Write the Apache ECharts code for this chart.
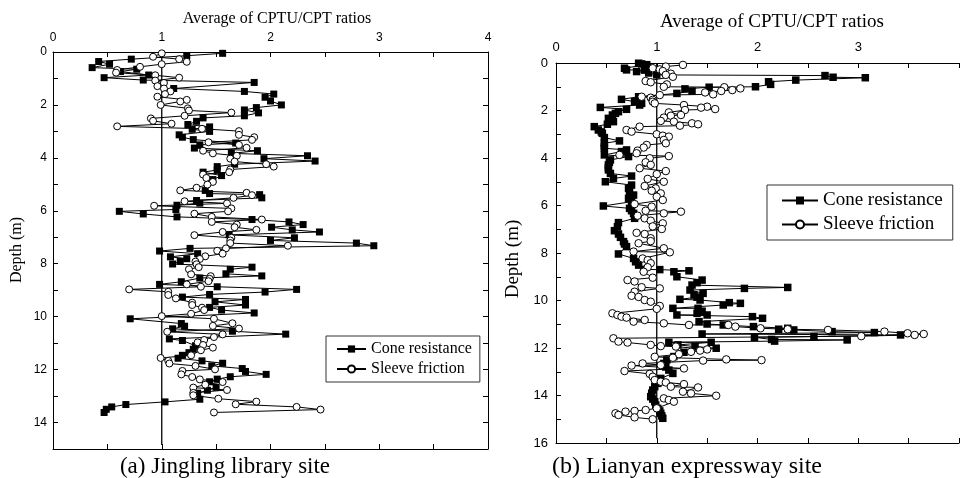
<!DOCTYPE html>
<html><head><meta charset="utf-8">
<script src="https://cdn.jsdelivr.net/npm/echarts@6/dist/echarts.min.js"></script>
<style>html,body{margin:0;padding:0;background:#fff}#c{width:962px;height:478px}</style>
</head><body><div id="c"></div><script>
// ---- Data: [ratio, depth (m)] ----
const jinglingCone = [[1.56,0.05],[1.23,0.14],[0.72,0.27],[0.42,0.36],[0.52,0.46],[0.36,0.59],[0.77,0.65],[0.62,0.74],[0.88,0.87],[0.47,0.97],[0.83,1.06],[1.85,1.15],[1.11,1.38],[1.76,1.49],[2.03,1.59],[1.95,1.71],[2.0,1.85],[2.1,2.0],[1.87,2.1],[1.76,2.19],[1.89,2.3],[1.76,2.41],[1.38,2.49],[1.32,2.62],[1.24,2.74],[1.44,2.83],[1.28,2.92],[1.44,3.0],[1.16,3.13],[1.19,3.22],[1.29,3.31],[1.68,3.44],[1.35,3.51],[1.30,3.63],[1.88,3.73],[1.64,3.83],[2.34,3.92],[1.94,4.03],[2.41,4.12],[1.67,4.24],[1.51,4.33],[1.51,4.46],[1.38,4.54],[1.55,4.67],[1.47,4.82],
[1.40,5.23],[1.44,5.35],[1.90,5.39],[1.92,5.51],[1.32,5.61],[1.35,5.71],[1.14,5.79],[1.13,5.95],[0.61,6.02],[0.83,6.12],[1.14,6.23],[1.83,6.33],[2.17,6.42],[2.30,6.52],[2.01,6.62],[2.20,6.72],[2.45,6.80],[1.62,6.91],[2.22,7.02],[2.00,7.12],[2.79,7.22],[2.95,7.32],[1.26,7.42],[0.98,7.52],[1.33,7.62],[1.08,7.74],[1.23,7.81],[1.17,7.91],[1.10,8.01],[1.83,8.13],[1.63,8.21],[1.59,8.38],[1.92,8.46],[1.35,8.54],[1.18,8.68],[0.98,8.78],[1.51,8.87],[2.24,8.97],[1.95,9.07],[1.44,9.16],[1.19,9.26],[1.77,9.35],[1.49,9.44],[1.77,9.56],[1.44,9.65],[1.55,9.75],[1.85,9.86],
[0.71,10.08],[1.18,10.26],[1.21,10.36],[1.10,10.46],[1.65,10.55],[2.14,10.66],[1.07,10.84],[1.19,10.9],[1.31,11.1],[1.29,11.23],[1.25,11.36],[1.19,11.46],[1.15,11.57],[1.37,11.67],[1.56,11.76],[1.46,11.86],[1.74,11.96],[1.77,12.07],[1.96,12.18],[1.63,12.27],[1.51,12.36],[1.44,12.46],[1.50,12.67],[1.42,12.78],[1.33,12.89],[1.35,13.12],[1.03,13.22],[0.67,13.32],[0.54,13.41],[0.49,13.5],[0.47,13.62]];

const jinglingSleeve = [[1.0,0.05],[0.92,0.18],[1.16,0.27],[1.23,0.37],[1.0,0.46],[0.80,0.56],[0.59,0.68],[0.58,0.78],[0.94,0.88],[1.16,0.97],[0.94,1.08],[1.02,1.17],[0.96,1.29],[1.02,1.38],[1.08,1.49],[1.03,1.59],[0.96,1.69],[1.23,1.81],[1.17,1.87],[0.99,2.0],[1.24,2.13],[1.25,2.21],[1.64,2.29],[1.21,2.41],[0.90,2.51],[0.92,2.6],[1.09,2.71],[0.59,2.81],[1.37,2.9],[1.71,2.99],[1.71,3.13],[1.85,3.22],[1.83,3.32],[1.43,3.41],[1.71,3.51],[1.78,3.62],[1.38,3.73],[1.47,3.83],[1.69,3.92],[1.63,4.03],[1.67,4.14],[1.96,4.24],[2.03,4.33],[1.63,4.44],[1.62,4.54],[1.38,4.63],[1.41,4.76],[1.47,4.91],[1.42,5.01],
[1.32,5.13],[1.17,5.23],[1.78,5.32],[1.83,5.41],[1.66,5.51],[1.21,5.64],[1.60,5.72],[0.93,5.81],[1.64,5.91],[1.61,6.02],[1.30,6.11],[1.46,6.23],[1.92,6.33],[1.46,6.42],[1.69,6.52],[1.67,6.62],[1.87,6.72],[1.56,6.80],[1.30,6.92],[1.64,7.02],[1.63,7.12],[1.63,7.22],[2.16,7.32],[1.59,7.42],[1.51,7.51],[1.56,7.62],[1.40,7.72],[1.35,7.82],[1.31,7.92],[1.32,8.02],[1.34,8.13],[1.25,8.21],[1.27,8.40],[1.45,8.47],[1.44,8.57],[1.43,8.66],[1.23,8.78],[1.36,8.87],[0.70,8.97],[1.06,9.06],[1.06,9.18],[1.13,9.31],[1.28,9.47],[1.28,9.56],[1.37,9.66],[1.39,9.75],
[1.27,9.89],[1.0,9.98],[1.48,10.08],[1.65,10.25],[1.47,10.35],[1.71,10.45],[1.05,10.57],[1.56,10.67],[1.48,10.77],[1.39,10.88],[1.33,10.97],[1.38,11.07],[1.47,11.17],[1.36,11.27],[1.27,11.46],[0.99,11.56],[1.06,11.67],[1.07,11.77],[1.31,11.86],[1.49,11.99],[1.19,12.05],[1.18,12.18],[1.28,12.28],[1.35,12.37],[1.56,12.47],[1.40,12.57],[1.29,12.68],[1.60,12.77],[1.29,12.88],[1.29,12.97],[1.52,13.10],[1.87,13.21],[1.68,13.31],[2.24,13.41],[2.46,13.51],[1.48,13.62]];

const lianyanCone = [[0.82,0.01],[0.85,0.04],[0.90,0.07],[0.91,0.15],[0.68,0.22],[0.70,0.29],[0.88,0.30],[0.80,0.36],[0.92,0.42],[1.0,0.50],[2.67,0.53],[2.75,0.60],[3.07,0.62],[2.38,0.72],[2.11,0.79],[2.13,0.90],[1.98,1.0],[1.52,1.02],[1.28,1.09],[1.35,1.18],[1.20,1.28],[0.82,1.42],[0.65,1.53],[0.78,1.63],[0.85,1.70],[0.83,1.77],[0.44,1.87],[0.70,1.95],[0.62,2.05],[0.59,2.12],[0.56,2.19],[0.52,2.33],[0.57,2.47],[0.51,2.58],[0.38,2.68],[0.42,2.82],[0.45,2.90],[0.46,2.96],[0.48,3.14],[0.63,3.28],[0.48,3.38],[0.48,3.50],[0.48,3.59],[0.70,3.66],[0.65,3.73],[0.48,3.87],[0.72,3.94],[0.54,4.08],[0.53,4.18],[0.52,4.29],[0.52,4.40],[0.52,4.50],[0.54,4.65],[0.75,4.76],[0.57,4.86],[0.49,5.0],
[0.75,5.14],[0.72,5.28],[0.73,5.42],[0.77,5.56],[0.72,5.70],[0.75,5.84],[0.47,6.02],[0.73,6.12],[0.75,6.22],[0.77,6.33],[0.78,6.44],[0.78,6.54],[0.62,6.72],[0.61,6.89],[0.58,7.06],[0.62,7.20],[0.64,7.34],[0.67,7.52],[0.68,7.62],[0.70,7.73],[0.62,8.04],[0.77,8.23],[0.79,8.37],[0.82,8.51],[0.87,8.69],[1.03,8.70],[1.32,8.75],[1.17,8.79],[1.20,9.0],[1.45,9.14],[1.40,9.25],[1.35,9.35],[2.30,9.45],[1.87,9.49],[1.33,9.56],[1.46,9.70],[1.37,9.77],[1.40,9.86],[1.23,9.95],[1.43,9.98],[1.72,10.09],[1.83,10.12],[1.66,10.19],[1.16,10.33],[1.41,10.33],[1.45,10.45],
[1.40,10.54],[1.50,10.61],[1.20,10.61],[1.95,10.68],[2.05,10.75],[1.42,10.89],[1.50,10.99],[1.66,11.03],[1.96,11.10],[2.30,11.17],[2.21,11.21],[2.36,11.24],[2.74,11.31],[3.16,11.35],[1.45,11.41],[3.42,11.45],[2.56,11.52],[1.97,11.55],[2.14,11.64],[2.89,11.66],[2.17,11.71],[1.12,11.76],[1.54,11.76],[1.21,11.87],[1.38,11.94],[1.59,12.01],[1.27,12.18],[1.17,12.36],[1.10,12.50],[1.07,12.65],[1.09,12.80],[1.12,12.93],[1.16,13.07],[1.04,13.28],[1.01,13.49],[0.98,13.63],[0.96,13.77],[0.95,13.90],[0.94,14.05],[0.96,14.15],[0.98,14.26],[0.99,14.40],[1.01,14.54],[1.03,14.65],[1.04,14.75],[1.05,14.86],[1.06,14.96]];

const lianyanSleeve = [[1.26,0.08],[1.09,0.15],[0.96,0.22],[1.03,0.27],[1.06,0.34],[1.14,0.45],[1.09,0.50],[1.16,0.58],[0.89,0.76],[0.94,0.81],[1.10,0.90],[1.07,1.0],[1.67,1.02],[1.83,1.07],[1.75,1.14],[1.64,1.18],[1.48,1.24],[1.56,1.32],[1.03,1.35],[0.85,1.42],[0.94,1.46],[0.96,1.55],[0.96,1.63],[0.98,1.70],[1.27,1.77],[1.50,1.84],[1.44,1.88],[1.58,1.94],[1.28,1.98],[1.12,2.08],[1.24,2.19],[1.14,2.22],[1.07,2.30],[1.04,2.44],[1.17,2.47],[1.35,2.54],[1.41,2.58],[1.23,2.64],[0.83,2.68],[0.70,2.82],[0.75,2.89],[1.0,3.0],[1.06,3.06],[1.12,3.10],[1.07,3.24],[1.09,3.38],[0.90,3.45],[0.87,3.56],[0.81,3.69],[0.80,3.80],[0.63,3.87],[1.12,3.92],[0.93,4.01],[0.89,4.18],[0.94,4.29],[0.83,4.43],[1.09,4.55],[1.00,4.68],[0.91,4.88],[1.07,5.0],
[0.88,5.18],[0.99,5.28],[0.95,5.38],[1.04,5.49],[1.00,5.63],[1.06,5.77],[0.78,5.94],[0.95,6.05],[0.89,6.22],[1.24,6.26],[1.07,6.33],[0.81,6.43],[0.88,6.54],[0.94,6.64],[1.06,6.75],[0.96,6.88],[1.05,6.99],[0.80,7.15],[0.88,7.20],[0.94,7.38],[0.94,7.50],[0.82,7.59],[1.07,7.80],[0.77,7.94],[1.13,7.97],[0.86,8.23],[0.91,8.30],[0.94,8.43],[0.91,8.60],[0.87,8.79],[0.96,9.04],[0.71,9.14],[0.78,9.20],[0.85,9.44],[1.03,9.49],[0.78,9.63],[0.75,9.80],[0.82,9.85],[0.88,9.98],[0.94,10.05],[1.03,10.23],[1.00,10.35],
[0.56,10.54],[0.61,10.61],[0.65,10.68],[0.70,10.72],[0.88,10.82],[0.77,10.89],[1.07,10.96],[1.32,11.03],[1.71,11.03],[1.78,11.10],[2.03,11.17],[2.30,11.21],[2.70,11.24],[3.26,11.31],[3.49,11.38],[3.65,11.41],[3.56,11.45],[3.03,11.50],[0.57,11.59],[0.62,11.73],[0.71,11.77],[0.94,11.87],[1.04,11.92],[1.19,11.94],[1.50,12.06],[1.43,12.11],[1.34,12.16],[1.22,12.26],[0.98,12.37],[1.16,12.41],[1.69,12.48],[2.04,12.51],[1.46,12.53],[0.86,12.65],[1.04,12.72],[0.75,12.74],[1.27,12.86],[0.68,12.97],[0.93,13.09],[0.96,13.21],[0.98,13.35],[1.04,13.42],[1.09,13.45],[1.27,13.52],[1.14,13.63],[1.41,13.66],[1.26,13.84],[1.34,13.91],[1.59,14.01],[1.07,14.12],[1.12,14.19],[1.17,14.26],[1.0,14.54],[0.89,14.61],[0.78,14.65],[0.69,14.68],[0.59,14.75],[0.62,14.82],[0.78,14.92],[0.96,15.0]];

const jinglingRef = [[1,0],[1,14.85]];
const lianyanRef = [[1,0],[1,15.8]];

const seriesNames = ['Cone resistance', 'Sleeve friction'];
const titleText = 'Average of CPTU/CPT ratios';
const depthText = 'Depth (m)';
const captionA = '(a) Jingling library site';
const captionB = '(b) Lianyan expressway site';

// ---- Styling helpers ----
const SANS = 'Liberation Sans';
const SERIF = 'Liberation Serif';
function xAx(grid, pos, max, show, fs, margin, hideMax) {
  return {
    type: 'value', gridIndex: grid, position: pos, min: 0, max: max, interval: 1,
    axisLine: {show: true, onZero: false, lineStyle: {color: '#000', width: 1}},
    axisTick: {show: true, inside: true, length: 5, lineStyle: {color: '#000', width: 1}},
    minorTick: {show: true, splitNumber: 2, length: 5, lineStyle: {color: '#000', width: 1}},
    axisLabel: {show: show, color: '#000', fontFamily: SANS, fontSize: fs, margin: margin,
      formatter: v => (hideMax && v === max) ? '' : String(v)},
    splitLine: {show: false}
  };
}
function yAx(grid, pos, max, show, fs, margin) {
  return {
    type: 'value', gridIndex: grid, position: pos, min: 0, max: max, interval: 1, inverse: true,
    axisLine: {show: true, onZero: false, lineStyle: {color: '#000', width: 1}},
    axisTick: {show: true, inside: true, length: 5, lineStyle: {color: '#000', width: 1}},
    axisLabel: {show: show, color: '#000', fontFamily: SANS, fontSize: fs, margin: margin,
      formatter: v => (v % 2 === 0) ? String(v) : ''},
    splitLine: {show: false}
  };
}
function coneSeries(name, xi, yi, data, size) {
  return {name: name, type: 'line', xAxisIndex: xi, yAxisIndex: yi, data: data,
    symbol: 'rect', symbolSize: size, lineStyle: {color: '#000', width: 1},
    itemStyle: {color: '#000'}, z: 3, animation: false};
}
function sleeveSeries(name, xi, yi, data, size) {
  return {name: name, type: 'line', xAxisIndex: xi, yAxisIndex: yi, data: data,
    symbol: 'circle', symbolSize: size, lineStyle: {color: '#000', width: 1},
    itemStyle: {color: '#fff', borderColor: '#000', borderWidth: 1}, z: 4, animation: false};
}
function refSeries(xi, yi, data) {
  return {name: 'ref', type: 'line', xAxisIndex: xi, yAxisIndex: yi, data: data,
    symbol: 'none', lineStyle: {color: '#000', width: 1.3}, z: 2, animation: false, silent: true};
}
function txt(x, y, text, size, rot) {
  return {type: 'text', x: x, y: y, rotation: rot || 0,
    style: {text: text, fill: '#000', font: size + 'px "' + SERIF + '"',
      textAlign: 'center', textVerticalAlign: 'middle'}};
}

const chart = echarts.init(document.getElementById('c'), null, {renderer: 'canvas'});
chart.setOption({
  animation: false,
  backgroundColor: '#fff',
  grid: [
    {left: 53, top: 52, width: 435, height: 397, containLabel: false},
    {left: 556, top: 63, width: 412, height: 380, containLabel: false}
  ],
  xAxis: [
    xAx(0, 'top', 4, true, 12, 8, false),
    xAx(0, 'bottom', 4, false, 12, 8, false),
    xAx(1, 'top', 4, true, 13, 9, true),
    xAx(1, 'bottom', 4, false, 13, 9, true)
  ],
  yAxis: [
    yAx(0, 'left', 15, true, 12, 6),
    yAx(0, 'right', 15, false, 12, 6),
    yAx(1, 'left', 16, true, 13, 8)
  ],
  legend: [
    {left: 326, top: 336, orient: 'vertical', data: seriesNames, selectedMode: false,
      borderColor: '#333', borderWidth: 1, padding: [5, 8, 5, 10], itemWidth: 29, itemHeight: 9, itemGap: 4,
      textStyle: {fontFamily: SERIF, fontSize: 16, color: '#000'}},
    {left: 767, top: 185, orient: 'vertical', data: seriesNames, selectedMode: false,
      borderColor: '#333', borderWidth: 1, padding: [6, 10, 6, 14], itemWidth: 36, itemHeight: 10, itemGap: 5,
      textStyle: {fontFamily: SERIF, fontSize: 19, color: '#000'}}
  ],
  graphic: [
    txt(277, 19, titleText, 16),
    txt(772, 22, titleText, 19),
    txt(17, 250, depthText, 16, Math.PI / 2),
    txt(513, 259, depthText, 19, Math.PI / 2),
    txt(225, 467, captionA, 23),
    txt(687, 467, captionB, 24)
  ],
  series: [
    refSeries(0, 0, jinglingRef),
    coneSeries(seriesNames[0], 0, 0, jinglingCone, 7),
    sleeveSeries(seriesNames[1], 0, 0, jinglingSleeve, 7),
    refSeries(2, 2, lianyanRef),
    coneSeries(seriesNames[0], 2, 2, lianyanCone, 7.5),
    sleeveSeries(seriesNames[1], 2, 2, lianyanSleeve, 7.5)
  ]
});
</script></body></html>
